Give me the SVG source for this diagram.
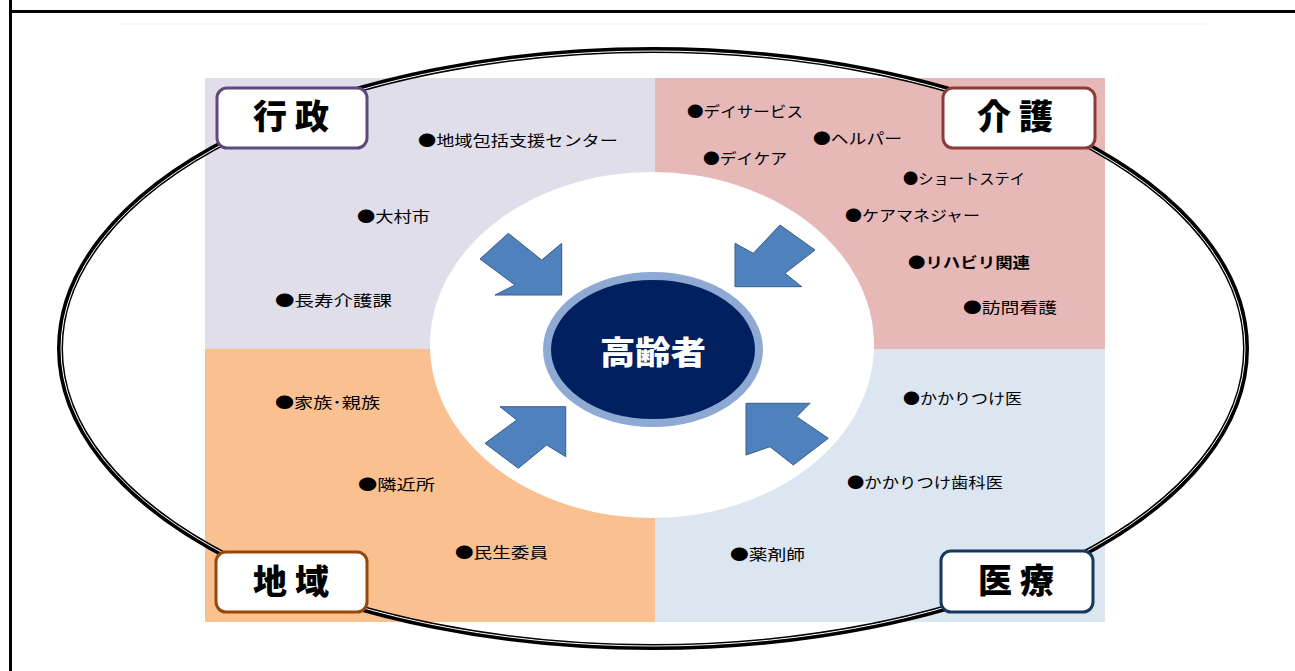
<svg xmlns="http://www.w3.org/2000/svg" width="1295" height="671" viewBox="0 0 1295 671">
  <style>
    .item { font-family: "Noto Sans CJK JP", "Noto Sans", sans-serif; font-size: 15px; fill: #000; }
    .lbl { font-family: "Noto Sans CJK JP", "Noto Sans", sans-serif; font-size: 34px; font-weight: 900; fill: #000; text-anchor: middle; }
    .box { fill: #fff; stroke-width: 3; }
    .arrow { fill: #4F81BD; stroke: #385D8A; stroke-width: 1; stroke-linejoin: miter; }
  </style>
  <rect x="0" y="0" width="1295" height="671" fill="#fff"/>
  <g id="frame">
    <line x1="10.5" y1="0" x2="10.5" y2="671" stroke="#000" stroke-width="3"/>
    <line x1="9" y1="11.5" x2="1295" y2="11.5" stroke="#000" stroke-width="3"/>
    <line x1="117" y1="24" x2="1207" y2="24" stroke="#efefef" stroke-width="1"/>
  </g>
  <g id="quadrants">
    <rect x="205" y="78" width="450" height="271" fill="#E1DEEB"/>
    <rect x="655" y="78" width="450" height="271" fill="#E6B9B8"/>
    <rect x="205" y="349" width="450" height="273" fill="#FAC090"/>
    <rect x="655" y="349" width="450" height="273" fill="#DCE6F1"/>
  </g>
  <g id="outer-ring">
    <ellipse cx="653" cy="348.5" rx="593" ry="298.5" fill="none" stroke="#000" stroke-width="6"/>
    <ellipse cx="653" cy="348.5" rx="592" ry="297.5" fill="none" stroke="#fff" stroke-width="1"/>
  </g>
  <g id="center-area">
    <ellipse cx="652" cy="345" rx="222" ry="173" fill="#fff"/>
  </g>
  <g id="node-gyosei">
    <rect class="box" x="217" y="88" width="150" height="60" rx="10" stroke="#5F497A"/>
    <text class="lbl" x="291" y="129">行 政</text>
    <text class="item" x="418" y="145.5" textLength="200" lengthAdjust="spacingAndGlyphs">●地域包括支援センター</text>
    <text class="item" x="357" y="222" textLength="73" lengthAdjust="spacingAndGlyphs">●大村市</text>
    <text class="item" x="275" y="305.5" textLength="117" lengthAdjust="spacingAndGlyphs">●長寿介護課</text>
  </g>
  <g id="node-kaigo">
    <rect class="box" x="943" y="88" width="152" height="60" rx="10" stroke="#8C3A3A"/>
    <text class="lbl" x="1015" y="129">介 護</text>
    <text class="item" x="687" y="117" textLength="116" lengthAdjust="spacingAndGlyphs">●デイサービス</text>
    <text class="item" x="813" y="143.5" textLength="89" lengthAdjust="spacingAndGlyphs">●ヘルパー</text>
    <text class="item" x="703" y="163.5" textLength="84" lengthAdjust="spacingAndGlyphs">●デイケア</text>
    <text class="item" x="903" y="183.5" textLength="122" lengthAdjust="spacingAndGlyphs">●ショートステイ</text>
    <text class="item" x="845" y="220.5" textLength="135" lengthAdjust="spacingAndGlyphs">●ケアマネジャー</text>
    <text class="item" x="908" y="267.5" textLength="122" lengthAdjust="spacingAndGlyphs" font-weight="bold">●リハビリ関連</text>
    <text class="item" x="963" y="312.5" textLength="94" lengthAdjust="spacingAndGlyphs">●訪問看護</text>
  </g>
  <g id="node-chiiki">
    <rect class="box" x="216" y="552" width="151" height="60" rx="10" stroke="#974806"/>
    <text class="lbl" x="291" y="594">地 域</text>
    <text class="item" x="275" y="407.5" textLength="105" lengthAdjust="spacingAndGlyphs">●家族･親族</text>
    <text class="item" x="358" y="490" textLength="77" lengthAdjust="spacingAndGlyphs">●隣近所</text>
    <text class="item" x="455" y="558" textLength="93" lengthAdjust="spacingAndGlyphs">●民生委員</text>
  </g>
  <g id="node-iryo">
    <rect class="box" x="941" y="551" width="152" height="61" rx="10" stroke="#17375E"/>
    <text class="lbl" x="1016" y="593">医 療</text>
    <text class="item" x="903" y="404" textLength="119" lengthAdjust="spacingAndGlyphs">●かかりつけ医</text>
    <text class="item" x="847" y="487.5" textLength="156" lengthAdjust="spacingAndGlyphs">●かかりつけ歯科医</text>
    <text class="item" x="730" y="560" textLength="75" lengthAdjust="spacingAndGlyphs">●薬剤師</text>
  </g>
  <g id="connectors">
    <polygon class="arrow" points="561.7,295 561.7,243.3 541.7,260 508.3,233.3 480,259 515,285 495,295"/>
    <polygon class="arrow" points="735,286.7 735,243.3 753.3,253.3 780,225 815,250 785,273.3 801.7,286.7"/>
    <polygon class="arrow" points="565.7,406.7 500,406.7 516.7,420 485,443.3 518.3,468.3 546.7,445 565.7,456.7"/>
    <polygon class="arrow" points="746,403.3 810,403.3 796.7,416.7 828.3,438.3 793.3,465 770,446.7 746,455"/>
  </g>
  <g id="node-koreisha">
    <ellipse cx="653" cy="349.5" rx="106" ry="73.5" fill="#002060" stroke="#8EA9D3" stroke-width="8"/>
    <text x="653" y="364" text-anchor="middle" font-family="'Noto Sans CJK JP', 'Noto Sans', sans-serif" font-size="32" font-weight="900" fill="#fff" textLength="106" lengthAdjust="spacingAndGlyphs">高齢者</text>
  </g>
</svg>
